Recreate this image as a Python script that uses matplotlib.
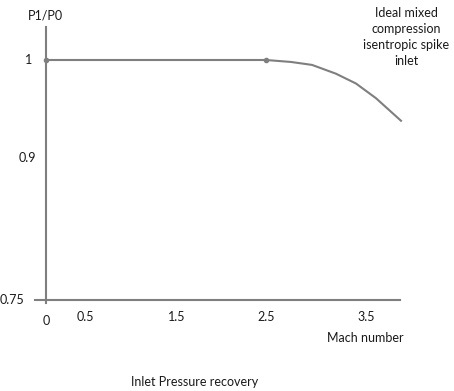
import numpy as np
import matplotlib.pyplot as plt

plt.rcParams['font.family'] = ['Lato', 'DejaVu Sans']

# data
mach = [0.0, 2.5, 2.75, 2.96, 3.2, 3.4, 3.6, 3.85]
p_ratio = [1.0, 1.0, 0.998, 0.995, 0.986, 0.976, 0.961, 0.938]
marked_mach = [0.0, 2.5]
marked_p = [1.0, 1.0]
x_ticks = [0.5, 1.5, 2.5, 3.5]
x_labels = ['0.5', '1.5', '2.5', '3.5']
y_ticks = [0.75, 0.9, 1.0]
y_labels = ['0.75', '0.9', '1']

# the drawing is not to scale: piecewise axis mapping
mx = [-1.0, 0.0, 0.5, 1.5, 2.5, 3.5, 4.5]
my = [-39.0, 0.0, 39.0, 131.0, 220.0, 320.0, 420.0]
py = [0.6, 0.75, 0.9, 1.0, 1.2]
pv = [-142.0, 0.0, 142.0, 240.0, 436.0]

def fx(v):
    return np.interp(v, mx, my)

def fx_inv(v):
    return np.interp(v, my, mx)

def fy(v):
    return np.interp(v, py, pv)

def fy_inv(v):
    return np.interp(v, pv, py)

gray = '#7f7f7f'
txt = '#1a1a1a'
fig = plt.figure(figsize=(4.54, 3.91), dpi=100)
ax = fig.add_axes([35 / 454, 88 / 391, 365 / 454, 276 / 391])
ax.set_xscale('function', functions=(fx, fx_inv))
ax.set_yscale('function', functions=(fy, fy_inv))

ax.plot(mach, p_ratio, color=gray, lw=1.5, clip_on=False)
ax.plot(marked_mach, marked_p, 'o', color=gray, ms=3, clip_on=False)

ax.set_xlim(fx_inv(-11), fx_inv(354))
ax.set_ylim(fy_inv(-3), fy_inv(273))

for s in ['top', 'right']:
    ax.spines[s].set_visible(False)
for s in ['left', 'bottom']:
    ax.spines[s].set_color(gray)
    ax.spines[s].set_linewidth(1.5)
ax.spines['left'].set_position(('data', 0.0))
ax.spines['bottom'].set_position(('data', 0.75))

ax.set_xticks(x_ticks)
ax.set_xticklabels(x_labels)
ax.tick_params(length=0, labelsize=9, colors=txt)
ax.tick_params(axis='x', pad=8)
ax.set_yticks(y_ticks)
ax.set_yticklabels([])
# hand-drawn look: y labels sit at uneven distances from the axis
for val, lab, gap in zip(y_ticks, y_labels, [22, 10, 14]):
    ax.annotate(lab, xy=(0.0, val), xytext=(-gap, 0), textcoords='offset pixels',
                ha='right', va='center', fontsize=9, color=txt, annotation_clip=False)
ax.text(0.0, fy_inv(-15), '0', ha='center', va='top', fontsize=9, color=txt)

fig.text(45 / 454, 1 - 15 / 391, 'P1/P0', ha='center', va='center', fontsize=9, color=txt)
fig.text(365 / 454, 1 - 338 / 391, 'Mach number', ha='center', va='center', fontsize=9, color=txt)
fig.text(195 / 454, 1 - 382 / 391, 'Inlet Pressure recovery', ha='center', va='center', fontsize=9, color=txt)
fig.text(406 / 454, 1 - 37 / 391, 'Ideal mixed\ncompression\nisentropic spike\ninlet',
         ha='center', va='center', fontsize=9, linespacing=1.42, color=txt)

fig.savefig('out.png', dpi=100)
